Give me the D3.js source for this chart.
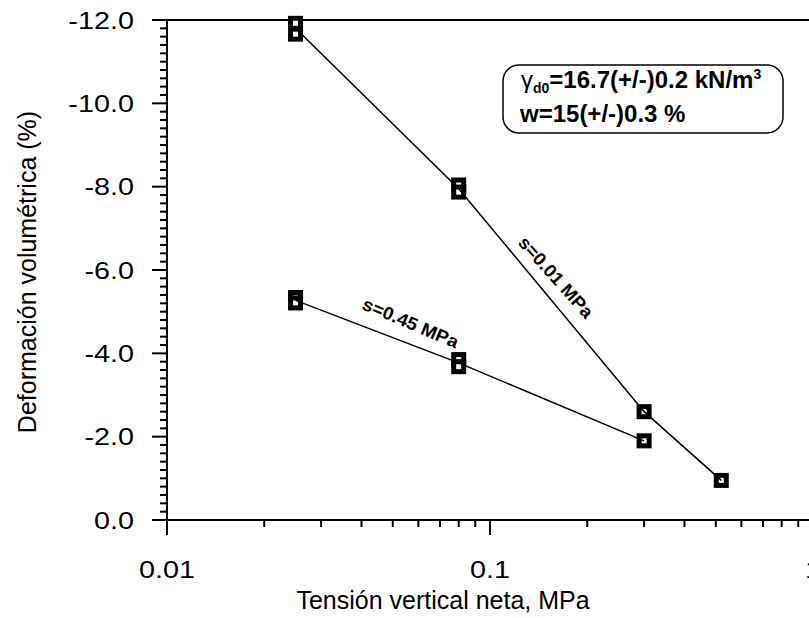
<!DOCTYPE html>
<html>
<head>
<meta charset="utf-8">
<script src="https://cdn.jsdelivr.net/npm/d3@7"></script>
<style>
  body { margin: 0; background: #fff; }
  svg { display: block; font-family: 'Liberation Sans', Arial, sans-serif; }
</style>
</head>
<body>
<svg id="chart" width="809" height="618"></svg>
<script>
// measured points (two readings at each stress for some stages)
const pointsS001 = [
  { x: 0.025, y: -11.92 }, { x: 0.025, y: -11.66 },
  { x: 0.08, y: -8.04 }, { x: 0.08, y: -7.87 },
  { x: 0.3, y: -2.6 },
  { x: 0.52, y: -0.95 },
];
const pointsS045 = [
  { x: 0.025, y: -5.34 }, { x: 0.025, y: -5.21 },
  { x: 0.08, y: -3.85 }, { x: 0.08, y: -3.68 },
  { x: 0.3, y: -1.9 },
];
// trend lines
const lineS001 = [
  { x: 0.025, y: -11.8 }, { x: 0.08, y: -7.95 }, { x: 0.3, y: -2.6 }, { x: 0.52, y: -0.95 },
];
const lineS045 = [
  { x: 0.025, y: -5.27 }, { x: 0.08, y: -3.77 }, { x: 0.3, y: -1.9 },
];
const yMajorTicks = [0, -2, -4, -6, -8, -10, -12];
const xMajorTicks = [0.01, 0.1, 1];
const xTickLabels = ['0.01', '0.1', '1'];

const svg = d3.select('#chart');

const x = d3.scaleLog().domain([0.01, 1]).range([167, 813]);
const y = d3.scaleLinear().domain([0, -12]).range([520, 20]);

const yMinor = d3.range(0, -12.01, -0.2).filter(v => Math.abs(v / 2 - Math.round(v / 2)) > 1e-6);
const xMinor = [];
[0.01, 0.1].forEach((dec) => {
  for (let k = 2; k <= 9; k += 1) xMinor.push(dec * k);
});

const axes = svg.append('g').attr('stroke', '#000').attr('fill', 'none');

// frame lines
axes.append('line').attr('x1', x(0.01)).attr('x2', x(0.01))
  .attr('y1', y(-12)).attr('y2', y(0)).attr('stroke-width', 2);
axes.append('line').attr('x1', x(0.01)).attr('x2', 809)
  .attr('y1', y(0)).attr('y2', y(0)).attr('stroke-width', 2);
axes.append('line').attr('x1', x(0.01)).attr('x2', 809)
  .attr('y1', y(-12)).attr('y2', y(-12)).attr('stroke-width', 2);

// y ticks
axes.selectAll('.ymaj').data(yMajorTicks).enter().append('line')
  .attr('x1', x(0.01) - 15).attr('x2', x(0.01))
  .attr('y1', d => y(d)).attr('y2', d => y(d)).attr('stroke-width', 2);
axes.selectAll('.ymin').data(yMinor).enter().append('line')
  .attr('x1', x(0.01) - 7).attr('x2', x(0.01))
  .attr('y1', d => y(d)).attr('y2', d => y(d)).attr('stroke-width', 2);

// x ticks
axes.selectAll('.xmaj').data(xMajorTicks).enter().append('line')
  .attr('x1', d => x(d)).attr('x2', d => x(d))
  .attr('y1', y(0)).attr('y2', y(0) + 15).attr('stroke-width', 2);
axes.selectAll('.xmin').data(xMinor).enter().append('line')
  .attr('x1', d => x(d)).attr('x2', d => x(d))
  .attr('y1', y(0)).attr('y2', y(0) + 7).attr('stroke-width', 2);

// tick labels (source font is a bit wider than Liberation Sans)
svg.append('g').selectAll('text').data(yMajorTicks).enter().append('text')
  .attr('transform', d => `translate(134, ${y(d)}) scale(1.2, 1)`)
  .attr('dy', '0.36em')
  .attr('text-anchor', 'end').attr('font-size', 24)
  .text(d => d.toFixed(1));

svg.append('g').selectAll('text').data(xMajorTicks).enter().append('text')
  .attr('transform', d => `translate(${x(d)}, 578) scale(1.2, 1)`)
  .attr('text-anchor', 'middle').attr('font-size', 24)
  .text((d, i) => xTickLabels[i]);

// axis titles
svg.append('text').attr('x', 443).attr('y', 609)
  .attr('text-anchor', 'middle').attr('font-size', 25)
  .text('Tensión vertical neta, MPa');
svg.append('text')
  .attr('transform', `translate(36, ${(y(0) + y(-12)) / 2 + 2}) rotate(-90)`)
  .attr('text-anchor', 'middle').attr('font-size', 25)
  .text('Deformación volumétrica (%)');

// markers
const drawMarkers = (pts) => {
  svg.append('g').selectAll('rect').data(pts).enter().append('rect')
    .attr('x', d => x(d.x) - 5).attr('y', d => y(d.y) - 5)
    .attr('width', 10).attr('height', 10)
    .attr('fill', '#fff').attr('stroke', '#000').attr('stroke-width', 5);
};
drawMarkers(pointsS001);
drawMarkers(pointsS045);

const line = d3.line().x(d => x(d.x)).y(d => y(d.y));
[lineS001, lineS045].forEach((l) => {
  svg.append('path').datum(l).attr('d', line)
    .attr('fill', 'none').attr('stroke', '#000').attr('stroke-width', 1.5);
});

// series labels along the lines
const labelAlong = (a, b, txt, along, off, rot) => {
  const x1 = x(a.x); const y1 = y(a.y); const x2 = x(b.x); const y2 = y(b.y);
  const ang = Math.atan2(y2 - y1, x2 - x1);
  const mx = x1 + (x2 - x1) * along;
  const my = y1 + (y2 - y1) * along;
  const px = mx + Math.sin(ang) * off;
  const py = my - Math.cos(ang) * off;
  svg.append('text')
    .attr('transform', `translate(${px},${py}) rotate(${ang * 180 / Math.PI + rot}) scale(1.05, 1)`)
    .attr('text-anchor', 'middle').attr('font-size', 18).attr('font-weight', 'bold')
    .text(txt);
};
labelAlong(lineS001[1], lineS001[2], 's=0.01 MPa', 0.45, 12, -2);
labelAlong(lineS045[0], lineS045[1], 's=0.45 MPa', 0.66, 14, 2);

// annotation box
svg.append('rect').attr('x', 503).attr('y', 65).attr('width', 280).attr('height', 68)
  .attr('rx', 16).attr('fill', '#fff').attr('stroke', '#000').attr('stroke-width', 1.5);
const t1 = svg.append('text').attr('x', 521).attr('y', 88).attr('font-size', 24).attr('font-weight', 'bold');
t1.append('tspan').attr('font-weight', 'normal').text('γ');
t1.append('tspan').attr('font-size', 14).attr('dy', 5).text('d0');
t1.append('tspan').attr('dy', -5).text('=16.7(+/-)0.2 kN/m');
t1.append('tspan').attr('font-size', 14).attr('dy', -9).text('3');
svg.append('text').attr('x', 520).attr('y', 122).attr('font-size', 24).attr('font-weight', 'bold')
  .text('w=15(+/-)0.3 %');
</script>
</body>
</html>
